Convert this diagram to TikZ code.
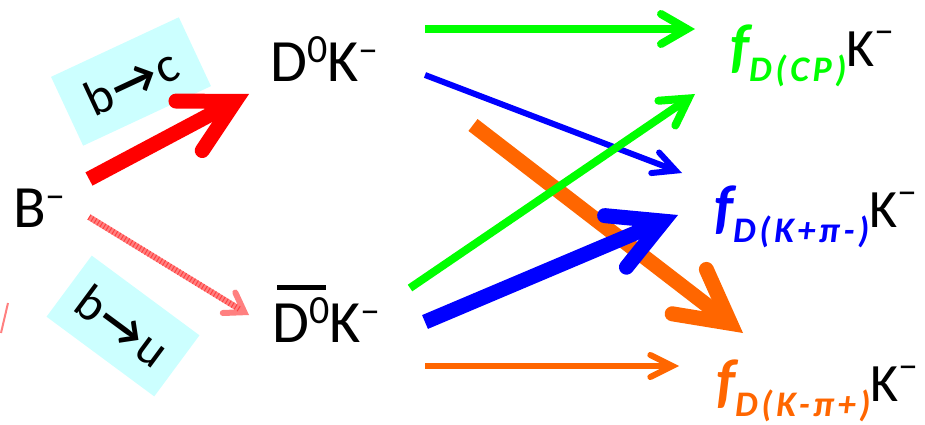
\documentclass[tikz,border=0pt]{standalone}
\usepackage{fontspec}
\setmainfont{Carlito}
\usepackage{xcolor}
\usetikzlibrary{arrows.meta}

\definecolor{fgreen}{HTML}{00FF00}
\definecolor{fblue}{HTML}{0000FF}
\definecolor{forange}{HTML}{FF6600}
\definecolor{fred}{HTML}{FF0000}
\definecolor{fpink}{HTML}{FF8080}
\definecolor{boxcyan}{HTML}{CCFFFF}

% raised charge / index
\newcommand{\sps}[2][19pt]{\raisebox{#1}{\fontsize{40}{40}\selectfont #2}}
% big f with lowered D index
\newcommand{\ff}[1]{{\fontsize{60}{60}\selectfont f}\raisebox{-15pt}{\fontsize{36}{36}\selectfont\addfontfeature{LetterSpace=10}#1}}
% bar over the anti-D
\newcommand{\obar}[1]{\setbox0\hbox{#1}\rlap{\kern5pt\raisebox{52pt}{\rule{\dimexpr\wd0-8pt\relax}{5pt}}}\box0}

\begin{document}
\begin{tikzpicture}[x=1pt, y=-1pt,
    state/.style={inner sep=0pt, anchor=base west, font=\fontsize{60}{66}\selectfont},
    final/.style={inner sep=0pt, anchor=base west, font=\fontsize{54}{60}\selectfont},
    trans/.style={fill=boxcyan, inner sep=0pt, minimum height=76pt, font=\fontsize{50}{52}\selectfont\addfontfeature{LetterSpace=5}},
    fat/.style={line width=15pt, -{Straight Barb[length=52pt, width=56pt, line cap=round]}},
    slim/.style={line width=8pt, -{Straight Barb[length=26pt, width=30pt, line cap=round]}},
    thin/.style={line width=6pt, -{Straight Barb[length=22pt, width=22pt, line cap=round]}}]

        \useasboundingbox (0,0) rectangle (925,425);

        % quark transitions
        \node[trans, minimum width=141pt, rotate=25] (bc) at (131,81.5) {b\textbf{→}c};
        \node[trans, minimum width=134pt, rotate=-36.5] (bu) at (123,326) {b\textbf{→}u};

        % states
        \node[state] (Bm) at (13,227) {B\sps{–}};
        \node[state] (D0K) at (270,82) {D\sps{0}K\sps{–}};
        \node[state] (D0bK) at (272,342) {\obar{D\sps{0}}K\sps{–}};

        \node[final] (fCP) at (730,67) {\textcolor{fgreen}{\textbf{\textit{\ff{D(CP)}}}}K\sps[23pt]{–}};
        \node[final] (fKpi) at (714,227) {\textcolor{fblue}{\textbf{\textit{\ff{D(K+π-)}}}}K\sps[23pt]{–}};
        \node[final] (fKmpi) at (716,401) {\textcolor{forange}{\textbf{\textit{\ff{D(K-π+)}}}}K\sps[23pt]{–}};

        % arrow ends
        \coordinate (Bc) at (89,179);   \coordinate (Dc) at (249,94);
        \coordinate (Bu) at (89,217);   \coordinate (Du) at (249,315);
        \coordinate (D0a) at (425,29);  \coordinate (CPa) at (695,29);
        \coordinate (D0b) at (425,75);  \coordinate (Kpa) at (682,173);
        \coordinate (D0c) at (473,125); \coordinate (Kma) at (743,333);
        \coordinate (Dba) at (410,288); \coordinate (CPb) at (695,94);
        \coordinate (Dbb) at (425,322); \coordinate (Kpb) at (678,215);
        \coordinate (Dbc) at (425,366); \coordinate (Kmb) at (679,366);
        \coordinate (sa) at (8,303);    \coordinate (sb) at (1,333);

        \draw[fpink, line width=2pt] (sa) -- (sb);

        \draw[fat, fred] (Bc) -- (Dc);
        \draw[fpink, line width=6pt, -{Straight Barb[length=18pt, width=24pt, line cap=round]}] (Bu) -- (Du);
        \draw[fred!75, line width=6pt, dash pattern=on 1pt off 2.5pt, shorten >=10pt] (Bu) -- (Du);

        \draw[slim, fgreen] (D0a) -- (CPa);
        \draw[thin, fblue] (D0b) -- (Kpa);
        \draw[fat, forange] (D0c) -- (Kma);
        \draw[slim, fgreen] (Dba) -- (CPb);
        \draw[fat, fblue] (Dbb) -- (Kpb);
        \draw[thin, forange] (Dbc) -- (Kmb);

\end{tikzpicture}
\end{document}
